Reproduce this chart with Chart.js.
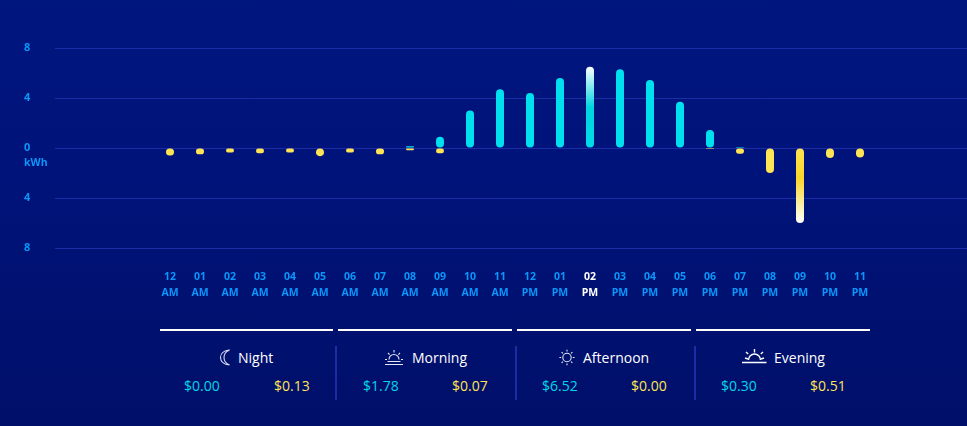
<!DOCTYPE html>
<html><head><meta charset="utf-8">
<style>
html,body{margin:0;padding:0;width:967px;height:426px;overflow:hidden}
body{background:linear-gradient(180deg,#00167f 0%,#00137a 40%,#000f69 100%);font-family:"Open Sans",sans-serif;position:relative}
#c{position:absolute;left:0;top:0}
.abs{position:absolute;white-space:nowrap}
.seg{position:absolute;top:329px;height:2px;background:#fff}
.div{position:absolute;top:346px;height:54px;width:2px;background:#1c2ca6}
.name{color:#fff;font-size:14px;line-height:20px;top:348px}
.val{font-size:14px;line-height:20px;top:376px}
svg{position:absolute;overflow:visible}
</style></head><body>
<canvas id="c" width="967" height="320" style="width:967px;height:320px"></canvas>
<div class="abs" id="unit" style="left:24px;top:155px;font:700 10.5px/14px 'Open Sans';color:#0a96fa">kWh</div>
<div id="panel"></div>
<script src="https://cdn.jsdelivr.net/npm/chart.js@4"></script>
<script>
const hours=["12","01","02","03","04","05","06","07","08","09","10","11","12","01","02","03","04","05","06","07","08","09","10","11"];
const meridiem=["AM","AM","AM","AM","AM","AM","AM","AM","AM","AM","AM","AM","PM","PM","PM","PM","PM","PM","PM","PM","PM","PM","PM","PM"];
const produced=[0,0,0,0,0,0,0,0,0.15,0.9,3,4.7,4.4,5.6,6.5,6.3,5.45,3.7,1.45,0.08,0,0,0,0];
const consumed=[0.6,0.5,0.35,0.42,0.35,0.65,0.35,0.5,0.17,0.42,0,0,0,0,0,0,0,0,0.08,0.45,2,6,0.8,0.75];
const yTicks=[-8,-4,0,4,8];
const periods=["Night","Morning","Afternoon","Evening"];
const earned=["$0.00","$1.78","$6.52","$0.30"];
const spent=["$0.13","$0.07","$0.00","$0.51"];

const CY="#00e0ee",YE="#ffe455",TICK="#0a96fa";
const selHour=14, peakUse=21;

function colorFn(kind){
  return function(ctx){
    const chart=ctx.chart, y=chart.scales.y;
    const item=ctx.raw; const hour=item?item.x:-1;
    if(!y||!y.height) return kind==='p'?CY:YE;
    if(kind==='p'&&hour===selHour){
      const g=chart.ctx.createLinearGradient(0,y.getPixelForValue(produced[hour]),0,y.getPixelForValue(0));
      g.addColorStop(0,"#ffffff");g.addColorStop(0.5,"#00d4e0");g.addColorStop(1,"#00dcea");return g;
    }
    if(kind==='c'&&hour===peakUse){
      const g=chart.ctx.createLinearGradient(0,y.getPixelForValue(0),0,y.getPixelForValue(-consumed[hour]));
      g.addColorStop(0,"#ffe455");g.addColorStop(0.4,"#f9d627");g.addColorStop(1,"#ffffff");return g;
    }
    return kind==='p'?CY:YE;
  };
}
function nz(arr,sign){return arr.map((v,i)=>v>0?{x:i,y:sign*v}:null).filter(Boolean);}

new Chart(document.getElementById('c'),{
  type:'bar',
  data:{datasets:[
    {data:nz(produced,1),base:0.04,backgroundColor:colorFn('p'),barThickness:8,borderRadius:4,borderSkipped:false,grouped:false,inflateAmount:0},
    {data:nz(consumed,-1),base:-0.04,backgroundColor:colorFn('c'),barThickness:8,borderRadius:4,borderSkipped:false,grouped:false,inflateAmount:0}
  ]},
  options:{
    responsive:false,animation:false,
    layout:{padding:{top:48,left:24,right:0,bottom:0}},
    plugins:{legend:{display:false},tooltip:{enabled:false}},
    scales:{
      x:{type:'linear',offset:false,min:-115/30,max:797/30,
        grid:{display:false},border:{display:false},
        afterBuildTicks(s){s.ticks=hours.map((_,i)=>({value:i}));},
        afterFit(s){s.height=72;},
        ticks:{autoSkip:false,maxRotation:0,padding:14,
          font:{family:"Open Sans",size:10.5,weight:'700',lineHeight:1.43},
          color:c=>c.index===selHour?"#ffffff":TICK,
          callback:(v,i)=>[hours[i],meridiem[i]]}},
      y:{min:-8,max:8,
        grid:{color:"#1c2ca6",lineWidth:1,drawTicks:false},border:{display:false},
        afterBuildTicks(s){s.ticks=yTicks.map(v=>({value:v}));},
        afterFit(s){s.width=31;},
        ticks:{padding:0,crossAlign:'far',color:TICK,
          font:{family:"Open Sans",size:11,weight:'700'},
          callback:v=>String(Math.abs(v))}}
    }
  }
});
</script>
<script>
const icons=[
 '<svg style="left:218px;top:349px" width="14" height="17" fill="none" stroke="#d8dcf4" stroke-width="1.1"><path d="M11.5 1C6 1.5 2.5 4.5 2.5 8.5S6 15.5 11.5 16C8 14.5 6 12 6 8.5S8 2.5 11.5 1Z"/></svg>',
 '<svg style="left:384px;top:349px" width="20" height="17" fill="none" stroke="#e4e7f8" stroke-width="1.1"><path d="M5 10.5a5 5 0 0 1 10 0"/><path d="M1 15.5h18M3.5 12.5h13M10 1v2.5M4 4l1.6 1.6M16 4l-1.6 1.6M1 10.5h2M17 10.5h2"/></svg>',
 '<svg style="left:559px;top:349px" width="16" height="17" fill="none" stroke="#e4e7f8" stroke-width="1.1"><circle cx="8" cy="8.5" r="4.2"/><path d="M8 .8v1.8M8 14.4v1.8M.4 8.5h1.8M13.8 8.5h1.8M2.6 3.1l1.3 1.3M12.1 12.6l1.3 1.3M13.4 3.1l-1.3 1.3M3.9 12.6l-1.3 1.3"/></svg>',
 '<svg style="left:742px;top:349px" width="25" height="16" fill="none" stroke="#ffffff" stroke-width="1.4"><path d="M6.5 11a6 6 0 0 1 12 0"/><path d="M0 13.5h24.5M12.5 0v3.5M4 3l2.2 2M21 3l-2.2 2M3 9l3 1M22 9l-3 1"/></svg>'
];
const segX=[[160,333],[338,512],[517,691],[696,870]];
const divX=[335,514.5,693.5];
const nameX=[238,412,583,774];
const earnX=[184,363,542,721];
const spendX=[274,452,631,810];
let h='';
segX.forEach(s=>h+=`<div class="seg" style="left:${s[0]}px;width:${s[1]-s[0]}px"></div>`);
divX.forEach(x=>h+=`<div class="div" style="left:${x}px"></div>`);
periods.forEach((p,i)=>{
  h+=icons[i];
  h+=`<div class="abs name" style="left:${nameX[i]}px">${p}</div>`;
  h+=`<div class="abs val" style="left:${earnX[i]}px;color:#00d8e6">${earned[i]}</div>`;
  h+=`<div class="abs val" style="left:${spendX[i]}px;color:#ffe455">${spent[i]}</div>`;
});
document.getElementById('panel').innerHTML=h;
</script>
</body></html>
